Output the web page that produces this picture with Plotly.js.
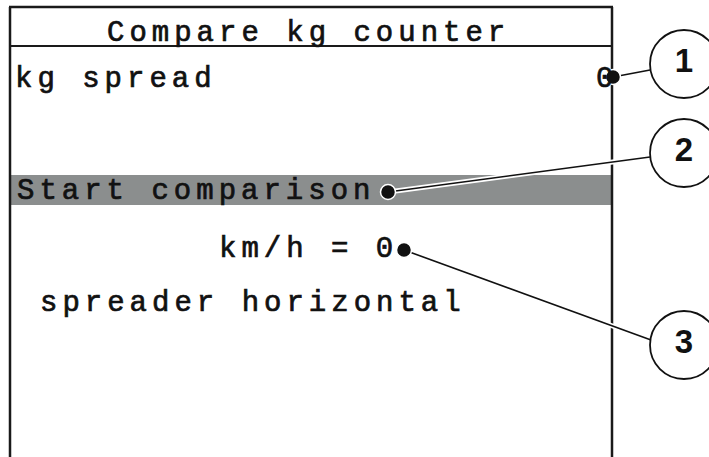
<!DOCTYPE html>
<html>
<head>
<meta charset="utf-8">
<script src="https://cdn.plot.ly/plotly-3.0.1.min.js"></script>
<style>
  html, body { margin: 0; padding: 0; background: #fff; }
  #chart { width: 709px; height: 457px; }
  .annotation-text { letter-spacing: 5px; stroke: #111111; stroke-width: 0.7px; }
</style>
</head>
<body>
<div id="chart"></div>
<script>
// ---- content (text shown on the display) ----
const screenTitle = "Compare kg counter";
const rowLabels = ["kg spread", "Start comparison", "km/h = 0", "spreader horizontal"];
const rowValues = ["0"];
const calloutNumbers = ["1", "2", "3"];

// ---- layout geometry (pixel positions in a 709 x 457 frame, y downward) ----
const frame = { left: 10, right: 612, top: 7, bottom: 457, titleLine: 46 };
const highlightBar = { y0: 175, y1: 205, color: "#8b8e8e" };
const titlePos = { x: 105, y: 33 };
const rowPos = [ { x: 13, y: 79 }, { x: 15, y: 191 }, { x: 217, y: 249 }, { x: 38, y: 303 } ];
const valuePos = [ { x: 594, y: 79 } ];
const dotX = [613, 388, 404];
const dotY = [77, 192, 250];
const circleX = [684, 684, 684];
const circleY = [64, 153, 345];
const circleR = 34;
const leaderEnd = [ { x: 650, y: 70 }, { x: 650, y: 157 }, { x: 651, y: 340 } ];

const FONT = "Liberation Mono, DejaVu Sans Mono, monospace";
const INK = "#111111";

const shapes = [];
// highlight bar
shapes.push({ type: "rect", xref: "x", yref: "y", layer: "below",
  x0: frame.left, x1: frame.right, y0: highlightBar.y0, y1: highlightBar.y1,
  fillcolor: highlightBar.color, line: { width: 0 } });
// frame
const frameLine = { color: "#1a1a1a", width: 2.5 };
shapes.push({ type: "line", xref: "x", yref: "y", layer: "below", x0: frame.left - 1, x1: frame.right + 1, y0: frame.top, y1: frame.top, line: frameLine });
shapes.push({ type: "line", xref: "x", yref: "y", layer: "below", x0: frame.left, x1: frame.left, y0: frame.top, y1: frame.bottom, line: frameLine });
shapes.push({ type: "line", xref: "x", yref: "y", layer: "below", x0: frame.right, x1: frame.right, y0: frame.top, y1: frame.bottom, line: frameLine });
shapes.push({ type: "line", xref: "x", yref: "y", layer: "below", x0: frame.left, x1: frame.right, y0: frame.titleLine, y1: frame.titleLine, line: { color: "#1a1a1a", width: 2 } });
// leader lines with white halo
for (let i = 0; i < dotX.length; i++) {
  shapes.push({ type: "line", xref: "x", yref: "y", layer: "below",
    x0: dotX[i], y0: dotY[i], x1: leaderEnd[i].x, y1: leaderEnd[i].y,
    line: { color: "#ffffff", width: 5 } });
}
for (let i = 0; i < dotX.length; i++) {
  shapes.push({ type: "line", xref: "x", yref: "y", layer: "below",
    x0: dotX[i], y0: dotY[i], x1: leaderEnd[i].x, y1: leaderEnd[i].y,
    line: { color: INK, width: 1.6 } });
}
// callout circles
for (let i = 0; i < circleX.length; i++) {
  shapes.push({ type: "circle", xref: "x", yref: "y", layer: "below",
    x0: circleX[i] - circleR, x1: circleX[i] + circleR,
    y0: circleY[i] - circleR, y1: circleY[i] + circleR,
    fillcolor: "#ffffff", line: { color: INK, width: 1.8 } });
}

const annotations = [];
const textFont = { family: FONT, size: 29, color: INK, weight: "normal" };
annotations.push({ xref: "x", yref: "y", x: titlePos.x, y: titlePos.y, text: screenTitle,
  showarrow: false, xanchor: "left", yanchor: "middle", font: textFont });
rowLabels.forEach((t, i) => {
  annotations.push({ xref: "x", yref: "y", x: rowPos[i].x, y: rowPos[i].y, text: t,
    showarrow: false, xanchor: "left", yanchor: "middle", font: textFont });
});
rowValues.forEach((t, i) => {
  annotations.push({ xref: "x", yref: "y", x: valuePos[i].x, y: valuePos[i].y, text: t,
    showarrow: false, xanchor: "left", yanchor: "middle", font: textFont });
});

const traces = [
  { type: "scatter", mode: "markers", x: dotX, y: dotY, hoverinfo: "skip",
    marker: { size: 15, color: INK, line: { color: "#ffffff", width: 1.5 } } },
  { type: "scatter", mode: "text", x: circleX, y: circleY, text: calloutNumbers,
    textposition: "middle center", hoverinfo: "skip",
    textfont: { family: "Liberation Sans Narrow, Liberation Sans, Arial, sans-serif", size: 33, color: INK, weight: "bold" } }
];

const layout = {
  width: 709, height: 457,
  margin: { l: 0, r: 0, t: 0, b: 0, pad: 0 },
  paper_bgcolor: "#ffffff", plot_bgcolor: "#ffffff",
  showlegend: false,
  xaxis: { range: [0, 709], visible: false, fixedrange: true },
  yaxis: { range: [457, 0], visible: false, fixedrange: true },
  shapes: shapes,
  annotations: annotations
};

Plotly.newPlot("chart", traces, layout, { staticPlot: true, displayModeBar: false });
</script>
</body>
</html>
